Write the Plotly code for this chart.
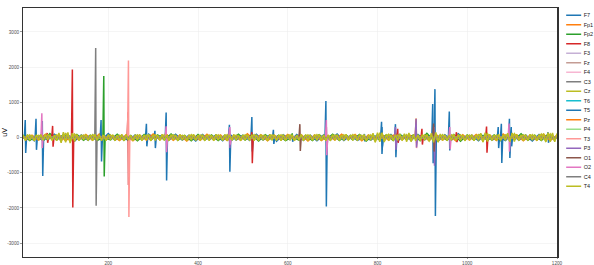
import plotly.graph_objects as go

# ---------------- data ----------------
CHANNELS = ["F7", "Fp1", "Fp2", "F8", "F3", "Fz", "F4", "C3", "Cz", "T6",
            "T5", "Pz", "P4", "T3", "P3", "O1", "O2", "C4", "T4"]
COLORS = ["#1f77b4", "#ff7f0e", "#2ca02c", "#d62728", "#c5b0d5", "#c49c94",
          "#f7b6d2", "#7f7f7f", "#bcbd22", "#17becf", "#1f77b4", "#ff7f0e",
          "#98df8a", "#ff9896", "#9467bd", "#8c564b", "#e377c2", "#7f7f7f",
          "#bcbd22"]

T_START, T_END = 10, 1200

# background activity (uV)
T4_X = list(range(10, 1201, 5))
T4_Y = [70, -82, 88, -75, 66, -90, 80, -72, 85, -78, 92, -68, 76, -86, 70, -91, 130, -150, 155, -135,
        145, -155, 125, -110, 90, -84, 78, -72, 86, -80, 70, -88, 92, -66, 80, -90, 74, -82, 87, -70,
        78, -88, 70, -80, 94, -72, 86, -78, 66, -90, 82, -74, 89, -85, 75, -68, 96, -92, 80, -86,
        72, -78, 90, -83, 75, -88, 85, -68, 81, -76, 88, -79, 70, -86, 78, -74, 91, -82, 68, -84,
        86, -70, 79, -90, 74, -81, 93, -77, 69, -85, 83, -88, 76, -72, 89, -80, 73, -86, 81, -78,
        88, -83, 77, -91, 82, -74, 86, -80, 71, -87, 90, -76, 79, -84, 74, -89, 83, -70, 87, -78,
        80, -86, 73, -79, 91, -77, 83, -88, 76, -71, 85, -81, 89, -74, 78, -90, 72, -84, 86, -76,
        82, -78, 74, -87, 90, -72, 79, -85, 76, -81, 88, -73, 83, -89, 77, -80, 120, -135, 140, -125,
        135, -120, 95, -88, 82, -78, 75, -86, 90, -74, 110, -118, 130, -112, 84, -88, 77, -83, 89, -80,
        86, -91, 120, -135, 145, -125, 98, -86, 78, -85, 73, -80, 91, -77, 83, -86, 74, -89, 80, -76,
        88, -82, 77, -86, 120, -130, 135, -115, 86, -78, 74, -84, 90, -76, 79, -87, 125, -120, 130, -115,
        88, -83, 76, -90, 85, -78, 91, -74, 80, -86, 83, -88, 115, -125, 135, -120, 130, -122, 118]

CZ_X = list(range(15, 1200, 10))
CZ_Y = [-65, 72, -78, 60, -70, 84, -62, 75, -110, 125,
        -120, 95, -70, 66, -74, 80, -62, 77, -68, 72,
        -76, 64, -82, 70, -66, 78, -72, 68, -80, 74,
        -64, 82, -70, 76, -78, 62, -74, 80, -66, 70,
        -80, 68, -72, 78, -64, 84, -70, 66, -76, 74,
        -68, 80, -74, 62, -82, 72, -66, 78, -70, 76,
        -72, 66, -80, 74, -68, 82, -64, 76, -78, 70,
        -66, 78, -72, 80, -74, 64, -76, 70, -100, 115,
        -110, 90, -76, 68, -72, 80, -95, 105, -70, 74,
        -100, 120, -115, 82, -70, 76, -68, 72, -80, 66,
        -74, 78, -100, 110, -72, 68, -80, 74, -105, 110,
        -70, 76, -68, 82, -74, 100, -110, 104, -96]

FP2_X = list(range(10, 1200, 15))
FP2_Y = [70, -85, 60, -95, 110, -70, 80, -60, 90, -75, 65, -88, 72, -66, 95, -80,
         58, -92, 84, -70, 76, -64, 100, -78, 62, -90, 88, -72, 70, -84,
         66, -76, 92, -68, 74, -96, 82, -60, 68, -86,
         105, -74, 60, -88, 80, -66, 94, -82, 70, -62,
         86, -98, 64, -70, 78, -84, 92, -64, 72, -90,
         118, -80, 66, -76, 88, -104, 70, -68, 96, -82,
         74, -92, 84, -66, 110, -78, 64, -88, 90, -72]

FP1_X = list(range(15, 1201, 15))
FP1_Y = [-80, 65, -70, 95, -60, 78, -92, 70, -66, 88,
         -74, 102, -68, 60, -86, 76, -90, 64, -72, 98,
         -62, 84, -78, 70, -96, 66, -80, 92, -70, 74,
         -88, 60, -76, 104, -64, 82, -94, 68, -72, 90,
         -66, 78, -100, 72, -84, 62, -74, 96, -60, 86,
         -90, 70, -68, 88, -78, 112, -64, 76, -92, 66,
         -82, 94, -70, 62, -98, 80, -74, 88, -66, 72,
         -86, 100, -62, 78, -90, 68, -76, 92, -84, 70]

F7_X = list(range(20, 1200, 15))
F7_Y = [60, -90, 75, -70, 95, -65, 80, -100, 70, -75,
        85, -68, 110, -80, 66, -92, 74, -60, 98, -84,
        62, -78, 90, -72, 68, -96, 84, -66, 76, -88,
        104, -70, 64, -82, 92, -74, 70, -108, 80, -62,
        88, -76, 66, -94, 72, -68, 100, -86, 60, -80,
        94, -72, 78, -64, 86, -102, 70, -76, 90, -66,
        74, -98, 82, -70, 106, -60, 68, -88, 96, -74,
        64, -84, 92, -78, 70, -96, 86, -62, 80]

# spike events: (sample, positive peak uV, negative peak uV)
SPIKES_F7 = [(15, 500, -440), (39, 530, -350), (285, 390, -250), (304, 190, -300),
             (329, 710, -1220), (520, 580, -400), (568, 220, -180), (610, 80, -120),
             (685, 1040, -1960), (771, 100, -110), (809, 450, -470), (840, 380, -560),
             (928, 1375, -2230), (1069, 300, -300), (1094, 530, -580), (1180, 150, -150)]
SPIKES_FP1 = [(886, 540, -150)]
SPIKES_FP2 = [(190, 1750, -1110), (610, 120, -60)]
SPIKES_F8 = [(64, 130, -150), (76, 330, -260), (120, 1930, -1990), (244, 720, -1350),
             (520, 150, -730), (845, 250, -150), (899, 250, -200), (976, 150, -130),
             (1043, 310, -430)]
SPIKES_C3 = [(172, 2540, -1940)]
SPIKES_T5 = [(53, 470, -1090), (184, 500, -680), (470, 360, -970), (810, 300, -250),
             (923, 950, -730), (960, 740, -370), (1076, 390, -720), (1098, 300, -250)]
SPIKES_T3 = [(245, 2190, -2260), (886, 350, -300)]
SPIKES_P3 = [(470, 250, -300), (840, 300, -350), (886, 530, -280), (926, 300, -800)]
SPIKES_O1 = [(627, 380, -380), (686, 300, -350), (925, 400, -400)]
SPIKES_O2 = [(52, 690, -300), (329, 320, -420), (471, 300, -200), (686, 500, -500),
             (961, 300, -330), (1093, 400, -400)]

WAVES = {"T4": (T4_X, T4_Y), "Cz": (CZ_X, CZ_Y), "Fp2": (FP2_X, FP2_Y),
         "Fp1": (FP1_X, FP1_Y), "F7": (F7_X, F7_Y)}
SPIKES = {"F7": SPIKES_F7, "Fp1": SPIKES_FP1, "Fp2": SPIKES_FP2, "F8": SPIKES_F8,
          "C3": SPIKES_C3, "T5": SPIKES_T5, "T3": SPIKES_T3, "P3": SPIKES_P3,
          "O1": SPIKES_O1, "O2": SPIKES_O2}

Y_TICKS = [-3000, -2000, -1000, 0, 1000, 2000, 3000]
Y_TICK_TEXT = ["-3000", "-2000", "-1000", "0", "1000", "2000", "3000"]
X_TICKS = [200, 400, 600, 800, 1000, 1200]


def build(name):
    pts = list(zip(*WAVES[name])) if name in WAVES else [(T_START, 0), (T_END, 0)]
    for s, up, dn in SPIKES.get(name, []):
        # keep the spike narrow: drop background samples right around it
        pts = [p for p in pts if not (s - 2 < p[0] < s + 3)]
        pts += [(s - 2, 0), (s, up), (s + 1, dn), (s + 3, 0)]
    pts.sort()
    return [p[0] for p in pts], [p[1] for p in pts]


fig = go.Figure()
for name, col in zip(CHANNELS, COLORS):
    xs, ys = build(name)
    fig.add_trace(go.Scatter(x=xs, y=ys, mode="lines", name=name,
                             line=dict(color=col, width=3)))

FONT = "Liberation Sans, Arial, sans-serif"
fig.update_layout(
    width=1188, height=530, autosize=False,
    margin=dict(l=46, r=74, t=16, b=17, autoexpand=False),
    paper_bgcolor="white", plot_bgcolor="white",
    font=dict(family=FONT, color="#000000"),
    showlegend=True,
    legend=dict(x=1.0125, y=1.0, xanchor="left", yanchor="top",
                font=dict(size=11, color="#1a1a1a", family=FONT),
                bgcolor="rgba(255,255,255,0)", borderwidth=0,
                tracegroupgap=0),
    xaxis=dict(range=[T_START, T_END], tickvals=X_TICKS, showgrid=True,
               gridcolor="#ebebeb", gridwidth=1.3, zeroline=False,
               ticks="outside", ticklen=2, tickwidth=1.3, tickcolor="#333333",
               tickfont=dict(size=9.3, color="#4d4d4d"),
               showline=True, mirror=True, linecolor="#333333", linewidth=3,
               automargin=False),
    yaxis=dict(range=[-3380, 3680], tickvals=Y_TICKS, ticktext=Y_TICK_TEXT,
               showgrid=True, gridcolor="#ebebeb", gridwidth=1.3, zeroline=False,
               ticks="outside", ticklen=3, tickwidth=1.3, tickcolor="#333333",
               tickfont=dict(size=9.3, color="#4d4d4d"),
               showline=True, mirror=True, linecolor="#333333", linewidth=3,
               title=dict(text="uV", font=dict(size=14.6, color="#000000"), standoff=6),
               automargin=False),
)

post = ("var gd=document.getElementById('{plot_id}');"
        "document.documentElement.style.overflow='hidden';"
        "document.body.style.overflow='hidden';"
        "document.body.style.margin='0';"
        "gd.style.zoom='0.5';")
fig.write_html("out.html", config={"displayModeBar": False}, post_script=post)
